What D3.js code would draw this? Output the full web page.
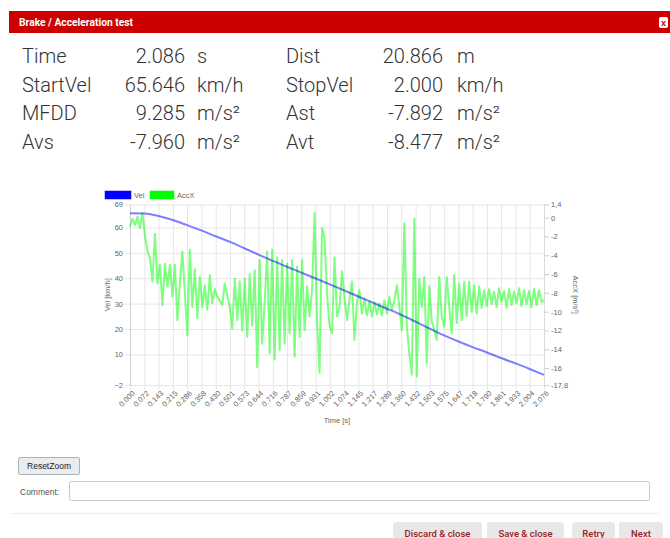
<!DOCTYPE html>
<html>
<head>
<meta charset="utf-8">
<script src="https://cdn.jsdelivr.net/npm/d3@7"></script>
<style>
  body { margin: 0; background: #fff; }
  svg text { font-family: "Liberation Sans", Arial, sans-serif; }
</style>
</head>
<body>
<div id="page"></div>
<script>
// Result values shown above the chart
const statNames = ["Time", "StartVel", "MFDD", "Avs"];
const statValues = ["2.086", "65.646", "9.285", "-7.960"];
const statUnits = ["s", "km/h", "m/s²", "m/s²"];
const statNames2 = ["Dist", "StopVel", "Ast", "Avt"];
const statValues2 = ["20.866", "2.000", "-7.892", "-8.477"];
const statUnits2 = ["m", "km/h", "m/s²", "m/s²"];

// Time axis labels (s), velocity read at each label
const timeTicks = [0.000, 0.072, 0.143, 0.215, 0.286, 0.358, 0.430, 0.501, 0.573, 0.644,
  0.716, 0.787, 0.859, 0.931, 1.002, 1.074, 1.145, 1.217, 1.289, 1.360,
  1.432, 1.503, 1.575, 1.647, 1.718, 1.790, 1.861, 1.933, 2.004, 2.076];
const velValues = [65.6, 65.5, 64.5, 62.9, 60.9, 58.8, 56.5, 54.3, 51.8, 49.3,
  46.8, 44.5, 42.2, 39.9, 37.6, 35.2, 32.8, 30.4, 28.0, 25.6,
  22.9, 20.2, 17.5, 15.1, 12.9, 10.8, 8.6, 6.5, 4.3, 2.0];

// AccX samples (m/s²), evenly spaced over the time axis
const accXValues = [
  -0.96, -0.1, -0.8, 0.1, -1.1, 0.5, -2.0, -3.6, -4.3, -6.8,
  -1.7, -7.0, -5.0, -9.3, -4.9, -7.3, -5.0, -8.4, -5.0, -10.9,
  -7.0, -3.6, -8.0, -12.5, -3.4, -9.5, -5.5, -10.7, -6.3, -9.5,
  -7.2, -9.8, -6.1, -9.1, -7.6, -8.4, -8.8, -9.3, -7.0, -8.3,
  -9.5, -11.8, -6.5, -10.9, -6.8, -12.0, -6.5, -12.7, -6.0, -11.5,
  -5.6, -15.9, -4.5, -13.4, -9.0, -3.6, -14.4, -3.4, -15.1, -4.2,
  -14.1, -4.5, -13.4, -4.9, -12.3, -4.5, -14.8, -5.2, -12.7, -4.5,
  -12.0, -7.3, -10.5, -7.7, 0.5, -10.9, -16.5, -1.1, -2.2, -8.0,
  -11.5, -12.3, -4.2, -10.5, -9.5, -5.7, -8.5, -10.9, -8.7, -6.8,
  -13.0, -9.0, -7.7, -10.2, -8.6, -10.4, -8.9, -10.5, -9.0, -10.3,
  -9.1, -10.4, -8.8, -10.2, -8.4, -9.8, -8.8, -7.2, -9.5, -12.0,
  -0.6, -11.5, -14.5, -16.7, -0.1, -16.9, -6.5, -9.5, -6.3, -15.5,
  -7.3, -11.0, -12.0, -13.0, -6.3, -10.5, -11.6, -6.3, -9.5, -12.3,
  -6.1, -11.2, -7.0, -10.9, -6.8, -10.5, -6.8, -10.0, -7.2, -10.2,
  -7.3, -9.6, -7.7, -9.4, -7.6, -9.2, -7.9, -9.5, -7.5, -9.0,
  -7.8, -9.6, -7.6, -9.3, -7.9, -9.1, -7.5, -9.4, -7.7, -9.2,
  -7.8, -9.5, -7.6, -9.3, -7.7, -9.0, -8.7];

// Axis ticks
const velTicks = [69, 60, 50, 40, 30, 20, 10, -2];
const accTicks = [1.4, 0, -2, -4, -6, -8, -10, -12, -14, -16, -17.8];
const buttonLabels = ["Discard & close", "Save & close", "Retry", "Next"];

const svg = d3.select("#page")
  .append("svg")
  .attr("width", 670)
  .attr("height", 538);

// Header bar
svg.append("rect")
  .attr("x", 9).attr("y", 11)
  .attr("width", 661).attr("height", 22)
  .attr("fill", "#cc0000");

svg.append("text")
  .attr("x", 19).attr("y", 25.5)
  .attr("fill", "#fff")
  .style("font-family", "Roboto, sans-serif")
  .style("font-weight", 700)
  .style("font-size", "10px")
  .attr("textLength", 114)
  .attr("lengthAdjust", "spacingAndGlyphs")
  .text("Brake / Acceleration test");

svg.append("rect")
  .attr("x", 659).attr("y", 17)
  .attr("width", 9).attr("height", 11)
  .attr("rx", 2)
  .attr("fill", "#fff");
svg.append("text")
  .attr("x", 663.5).attr("y", 25.5)
  .attr("text-anchor", "middle")
  .attr("fill", "#b00000")
  .style("font-size", "9px")
  .style("font-weight", 700)
  .text("x");

// Stats block
const statRowY = [63, 91.5, 120, 148.5];
const statFont = g => g
  .style("font-family", "Roboto, sans-serif")
  .style("font-weight", 300)
  .style("font-size", "20px")
  .attr("fill", "#333");

function drawStats(names, values, units, xLabel, xValueEnd, xUnit) {
  names.forEach((n, i) => {
    svg.append("text").attr("x", xLabel).attr("y", statRowY[i]).call(statFont).text(n);
    svg.append("text").attr("x", xValueEnd).attr("y", statRowY[i])
      .attr("text-anchor", "end").call(statFont).text(values[i]);
    svg.append("text").attr("x", xUnit).attr("y", statRowY[i]).call(statFont).text(units[i]);
  });
}
drawStats(statNames, statValues, statUnits, 22, 185, 197);
drawStats(statNames2, statValues2, statUnits2, 286, 443, 457);

// Chart area
const chartMargin = { left: 130, top: 204.5 };
const plotW = 414;
const plotH = 180.5;

const chart = svg.append("g")
  .attr("transform", `translate(${chartMargin.left}, ${chartMargin.top})`);

const x = d3.scaleLinear().domain([0, timeTicks[timeTicks.length - 1]]).range([0, plotW]);
const yVel = d3.scaleLinear().domain([-2, 69]).range([plotH, 0]);
const yAcc = d3.scaleLinear().domain([-17.8, 1.4]).range([plotH, 0]);

const gridColor = "#e6e6e6";
const tickColor = "#666";

// Vertical grid lines (with tick marks below the plot)
chart.append("g")
  .attr("transform", `translate(0, ${plotH})`)
  .call(d3.axisBottom(x).tickValues(timeTicks).tickSize(-plotH).tickFormat(""))
  .call(g => g.select(".domain").remove())
  .call(g => g.selectAll(".tick line").attr("stroke", gridColor));

// Horizontal grid lines
chart.append("g")
  .call(d3.axisLeft(yVel).tickValues(velTicks).tickSize(-plotW).tickFormat(""))
  .call(g => g.select(".domain").remove())
  .call(g => g.selectAll(".tick line").attr("stroke", gridColor));

// Add the x-axis
const xAxis = chart.append("g")
  .attr("transform", `translate(0, ${plotH})`)
  .call(d3.axisBottom(x).tickValues(timeTicks).tickSize(5).tickSizeOuter(0).tickFormat(d3.format(".3f")));
xAxis.select(".domain").attr("stroke", gridColor);
xAxis.selectAll(".tick line").attr("stroke", gridColor);
xAxis.selectAll("text")
  .attr("fill", tickColor)
  .style("font-size", "7.5px")
  .attr("x", 0).attr("y", 0).attr("dy", "0.35em")
  .attr("text-anchor", "end")
  .attr("transform", "translate(3, 7) rotate(-45)");

// Add the left y-axis
const yAxisLeft = chart.append("g")
  .call(d3.axisLeft(yVel).tickValues(velTicks).tickSize(5).tickSizeOuter(0).tickPadding(2));
yAxisLeft.select(".domain").attr("stroke", "#cfcfcf");
yAxisLeft.selectAll(".tick line").attr("stroke", gridColor);
yAxisLeft.selectAll("text").attr("fill", tickColor).style("font-size", "7.5px");

// Add the right y-axis
const yAxisRight = chart.append("g")
  .attr("transform", `translate(${plotW}, 0)`)
  .call(d3.axisRight(yAcc).tickValues(accTicks).tickSize(5).tickSizeOuter(0).tickPadding(2)
    .tickFormat(d => String(d).replace(".", ",")));
yAxisRight.select(".domain").attr("stroke", "#dcdcdc");
yAxisRight.selectAll(".tick line").attr("stroke", "#cfcfcf");
yAxisRight.selectAll("text").attr("fill", tickColor).style("font-size", "7.5px");

// Axis titles
chart.append("text")
  .attr("x", plotW / 2).attr("y", plotH + 38)
  .attr("text-anchor", "middle")
  .attr("fill", tickColor)
  .style("font-size", "7.5px")
  .text("Time [s]");

chart.append("text")
  .attr("transform", `translate(-20.5, ${plotH / 2}) rotate(-90)`)
  .attr("text-anchor", "middle")
  .attr("fill", tickColor)
  .style("font-size", "7.5px")
  .text("Vel [km/h]");

chart.append("text")
  .attr("transform", `translate(${plotW + 29}, ${plotH / 2}) rotate(90)`)
  .attr("text-anchor", "middle")
  .attr("fill", tickColor)
  .style("font-size", "7.5px")
  .text("AccX [m/s²]");

// Lines: AccX first so Vel sits on top
const accStep = timeTicks[timeTicks.length - 1] / (accXValues.length - 1);
const accLine = d3.line()
  .x((d, i) => x(i * accStep))
  .y(d => yAcc(d));
const velLine = d3.line()
  .x((d, i) => x(timeTicks[i]))
  .y(d => yVel(d))
  .curve(d3.curveMonotoneX);

chart.append("path")
  .datum(accXValues)
  .attr("fill", "none")
  .attr("stroke", "rgba(0,255,0,0.5)")
  .attr("stroke-width", 2)
  .attr("stroke-linejoin", "round")
  .attr("d", accLine);

chart.append("path")
  .datum(velValues)
  .attr("fill", "none")
  .attr("stroke", "rgba(0,0,255,0.5)")
  .attr("stroke-width", 2)
  .attr("d", velLine);

// Add the legend
const legendItems = [
  { name: "Vel", fill: "#0000ff", stroke: "rgba(0,0,255,0.5)", x: 105, w: 26 },
  { name: "AccX", fill: "#00ff00", stroke: "rgba(0,255,0,0.5)", x: 150, w: 24 }
];
const legend = svg.selectAll(".legend")
  .data(legendItems)
  .enter()
  .append("g")
  .attr("class", "legend")
  .attr("transform", d => `translate(${d.x}, 191)`);

legend.append("rect")
  .attr("width", d => d.w)
  .attr("height", 8)
  .attr("fill", d => d.fill)
  .attr("stroke", d => d.stroke);

legend.append("text")
  .attr("x", d => d.w + 3)
  .attr("y", 4)
  .attr("dy", "0.35em")
  .attr("fill", tickColor)
  .style("font-size", "7.5px")
  .text(d => d.name);

// ResetZoom button
svg.append("rect")
  .attr("x", 18.5).attr("y", 457.5)
  .attr("width", 61).attr("height", 17)
  .attr("rx", 1.5)
  .attr("fill", "#e9edf0")
  .attr("stroke", "#a8b3bc");
svg.append("text")
  .attr("x", 49).attr("y", 469)
  .attr("text-anchor", "middle")
  .attr("fill", "#222")
  .style("font-size", "8.5px")
  .text("ResetZoom");

// Comment field
svg.append("text")
  .attr("x", 20).attr("y", 494.5)
  .attr("fill", "#555")
  .style("font-size", "8.5px")
  .text("Comment:");
svg.append("rect")
  .attr("x", 69.5).attr("y", 481.5)
  .attr("width", 580).attr("height", 19)
  .attr("rx", 2)
  .attr("fill", "#fff")
  .attr("stroke", "#c8c8c8");

// Separator
svg.append("line")
  .attr("x1", 10).attr("x2", 660)
  .attr("y1", 513.5).attr("y2", 513.5)
  .attr("stroke", "#eeeeee");

// Footer buttons
const buttonX = [393, 487, 572, 619];
const buttonW = [89, 77, 43, 44];
buttonLabels.forEach((label, i) => {
  svg.append("rect")
    .attr("x", buttonX[i]).attr("y", 522)
    .attr("width", buttonW[i]).attr("height", 22)
    .attr("rx", 3)
    .attr("fill", "#e8e8e8");
  svg.append("text")
    .attr("x", buttonX[i] + buttonW[i] / 2).attr("y", 536.5)
    .attr("text-anchor", "middle")
    .attr("fill", "#9a1a1a")
    .style("font-family", "Roboto, sans-serif")
    .style("font-weight", 500)
    .style("font-size", "9.5px")
    .text(label);
});
</script>
</body>
</html>
